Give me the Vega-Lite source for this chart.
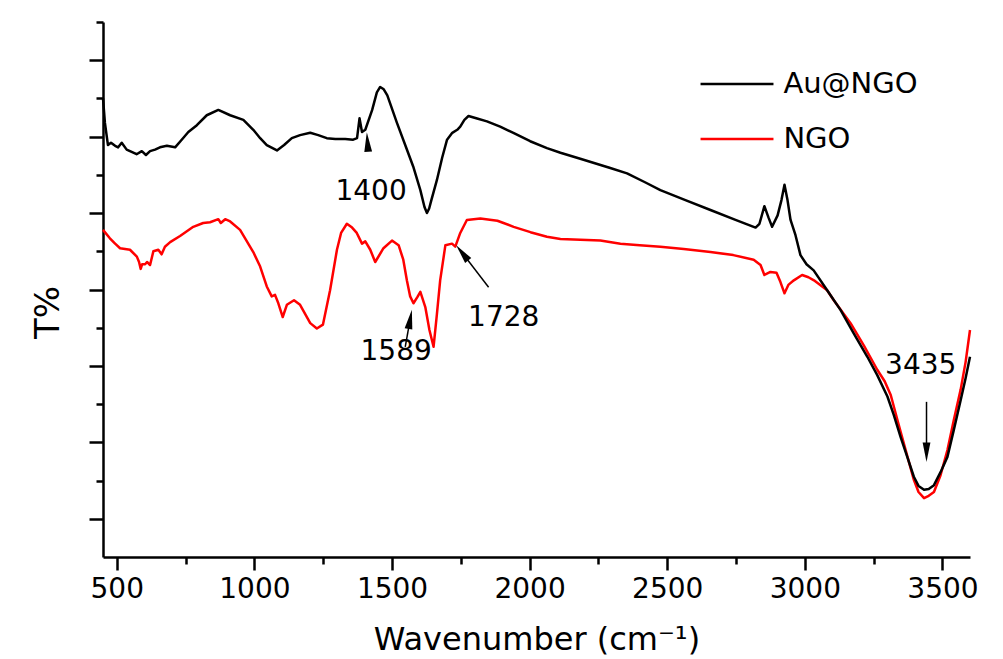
{
  "$schema": "https://vega.github.io/schema/vega-lite/v6.json",
  "width": 867,
  "height": 535,
  "autosize": {"type": "none"},
  "padding": {"left": 103, "top": 22, "right": 33, "bottom": 102},
  "background": "white",
  "config": {"view": {"stroke": null}, "font": "DejaVu Sans"},
  "datasets": {
    "spectra": [
      {"series":"NGO","wn":450,"T":4.78},{"series":"NGO","wn":475,"T":4.67},{"series":"NGO","wn":494,"T":4.60},{"series":"NGO","wn":512,"T":4.54},{"series":"NGO","wn":530,"T":4.53},{"series":"NGO","wn":548,"T":4.52},{"series":"NGO","wn":573,"T":4.43},{"series":"NGO","wn":581,"T":4.36},{"series":"NGO","wn":587,"T":4.27},{"series":"NGO","wn":592,"T":4.33},{"series":"NGO","wn":603,"T":4.33},{"series":"NGO","wn":610,"T":4.36},{"series":"NGO","wn":621,"T":4.32},{"series":"NGO","wn":633,"T":4.50},{"series":"NGO","wn":651,"T":4.52},{"series":"NGO","wn":663,"T":4.46},{"series":"NGO","wn":675,"T":4.56},{"series":"NGO","wn":694,"T":4.62},{"series":"NGO","wn":730,"T":4.70},{"series":"NGO","wn":778,"T":4.82},{"series":"NGO","wn":814,"T":4.87},{"series":"NGO","wn":839,"T":4.88},{"series":"NGO","wn":869,"T":4.92},{"series":"NGO","wn":878,"T":4.87},{"series":"NGO","wn":894,"T":4.92},{"series":"NGO","wn":912,"T":4.89},{"series":"NGO","wn":948,"T":4.78},{"series":"NGO","wn":996,"T":4.49},{"series":"NGO","wn":1021,"T":4.30},{"series":"NGO","wn":1045,"T":4.04},{"series":"NGO","wn":1063,"T":3.91},{"series":"NGO","wn":1075,"T":3.93},{"series":"NGO","wn":1087,"T":3.82},{"series":"NGO","wn":1103,"T":3.64},{"series":"NGO","wn":1118,"T":3.80},{"series":"NGO","wn":1144,"T":3.86},{"series":"NGO","wn":1166,"T":3.80},{"series":"NGO","wn":1203,"T":3.56},{"series":"NGO","wn":1227,"T":3.49},{"series":"NGO","wn":1249,"T":3.54},{"series":"NGO","wn":1275,"T":3.99},{"series":"NGO","wn":1300,"T":4.52},{"series":"NGO","wn":1315,"T":4.74},{"series":"NGO","wn":1336,"T":4.86},{"series":"NGO","wn":1355,"T":4.81},{"series":"NGO","wn":1372,"T":4.74},{"series":"NGO","wn":1391,"T":4.60},{"series":"NGO","wn":1403,"T":4.63},{"series":"NGO","wn":1421,"T":4.52},{"series":"NGO","wn":1439,"T":4.36},{"series":"NGO","wn":1469,"T":4.54},{"series":"NGO","wn":1500,"T":4.64},{"series":"NGO","wn":1524,"T":4.58},{"series":"NGO","wn":1541,"T":4.39},{"series":"NGO","wn":1554,"T":4.12},{"series":"NGO","wn":1566,"T":3.91},{"series":"NGO","wn":1578,"T":3.82},{"series":"NGO","wn":1592,"T":3.90},{"series":"NGO","wn":1603,"T":3.97},{"series":"NGO","wn":1621,"T":3.77},{"series":"NGO","wn":1636,"T":3.47},{"series":"NGO","wn":1651,"T":3.25},{"series":"NGO","wn":1663,"T":3.67},{"series":"NGO","wn":1675,"T":4.12},{"series":"NGO","wn":1694,"T":4.58},{"series":"NGO","wn":1718,"T":4.60},{"series":"NGO","wn":1730,"T":4.56},{"series":"NGO","wn":1748,"T":4.74},{"series":"NGO","wn":1772,"T":4.91},{"series":"NGO","wn":1821,"T":4.93},{"series":"NGO","wn":1883,"T":4.90},{"series":"NGO","wn":1942,"T":4.82},{"series":"NGO","wn":2003,"T":4.75},{"series":"NGO","wn":2063,"T":4.69},{"series":"NGO","wn":2112,"T":4.66},{"series":"NGO","wn":2184,"T":4.65},{"series":"NGO","wn":2257,"T":4.64},{"series":"NGO","wn":2330,"T":4.60},{"series":"NGO","wn":2400,"T":4.58},{"series":"NGO","wn":2475,"T":4.56},{"series":"NGO","wn":2560,"T":4.53},{"series":"NGO","wn":2657,"T":4.49},{"series":"NGO","wn":2740,"T":4.45},{"series":"NGO","wn":2814,"T":4.39},{"series":"NGO","wn":2839,"T":4.32},{"series":"NGO","wn":2853,"T":4.19},{"series":"NGO","wn":2875,"T":4.23},{"series":"NGO","wn":2897,"T":4.22},{"series":"NGO","wn":2911,"T":4.10},{"series":"NGO","wn":2926,"T":3.95},{"series":"NGO","wn":2940,"T":4.06},{"series":"NGO","wn":2960,"T":4.12},{"series":"NGO","wn":2990,"T":4.19},{"series":"NGO","wn":3013,"T":4.16},{"series":"NGO","wn":3033,"T":4.12},{"series":"NGO","wn":3081,"T":3.99},{"series":"NGO","wn":3105,"T":3.86},{"series":"NGO","wn":3166,"T":3.56},{"series":"NGO","wn":3214,"T":3.27},{"series":"NGO","wn":3263,"T":2.95},{"series":"NGO","wn":3290,"T":2.80},{"series":"NGO","wn":3312,"T":2.62},{"series":"NGO","wn":3341,"T":2.23},{"series":"NGO","wn":3373,"T":1.81},{"series":"NGO","wn":3396,"T":1.51},{"series":"NGO","wn":3413,"T":1.35},{"series":"NGO","wn":3433,"T":1.27},{"series":"NGO","wn":3450,"T":1.30},{"series":"NGO","wn":3469,"T":1.35},{"series":"NGO","wn":3493,"T":1.57},{"series":"NGO","wn":3518,"T":1.90},{"series":"NGO","wn":3541,"T":2.29},{"series":"NGO","wn":3566,"T":2.69},{"series":"NGO","wn":3584,"T":3.05},{"series":"NGO","wn":3600,"T":3.47},
      {"series":"Au@NGO","wn":450,"T":6.50},{"series":"Au@NGO","wn":457,"T":6.18},{"series":"Au@NGO","wn":468,"T":5.89},{"series":"Au@NGO","wn":479,"T":5.92},{"series":"Au@NGO","wn":494,"T":5.88},{"series":"Au@NGO","wn":505,"T":5.86},{"series":"Au@NGO","wn":518,"T":5.92},{"series":"Au@NGO","wn":536,"T":5.83},{"series":"Au@NGO","wn":554,"T":5.80},{"series":"Au@NGO","wn":572,"T":5.77},{"series":"Au@NGO","wn":591,"T":5.81},{"series":"Au@NGO","wn":606,"T":5.76},{"series":"Au@NGO","wn":621,"T":5.81},{"series":"Au@NGO","wn":639,"T":5.83},{"series":"Au@NGO","wn":657,"T":5.86},{"series":"Au@NGO","wn":682,"T":5.88},{"series":"Au@NGO","wn":712,"T":5.86},{"series":"Au@NGO","wn":736,"T":5.96},{"series":"Au@NGO","wn":760,"T":6.06},{"series":"Au@NGO","wn":791,"T":6.15},{"series":"Au@NGO","wn":827,"T":6.28},{"series":"Au@NGO","wn":869,"T":6.35},{"series":"Au@NGO","wn":912,"T":6.28},{"series":"Au@NGO","wn":960,"T":6.22},{"series":"Au@NGO","wn":996,"T":6.09},{"series":"Au@NGO","wn":1021,"T":5.98},{"series":"Au@NGO","wn":1045,"T":5.89},{"series":"Au@NGO","wn":1082,"T":5.82},{"series":"Au@NGO","wn":1108,"T":5.89},{"series":"Au@NGO","wn":1136,"T":5.98},{"series":"Au@NGO","wn":1166,"T":6.02},{"series":"Au@NGO","wn":1203,"T":6.05},{"series":"Au@NGO","wn":1232,"T":6.02},{"series":"Au@NGO","wn":1263,"T":5.98},{"series":"Au@NGO","wn":1294,"T":5.97},{"series":"Au@NGO","wn":1330,"T":5.97},{"series":"Au@NGO","wn":1359,"T":5.96},{"series":"Au@NGO","wn":1373,"T":5.98},{"series":"Au@NGO","wn":1382,"T":6.24},{"series":"Au@NGO","wn":1391,"T":6.06},{"series":"Au@NGO","wn":1403,"T":6.09},{"series":"Au@NGO","wn":1428,"T":6.35},{"series":"Au@NGO","wn":1445,"T":6.58},{"series":"Au@NGO","wn":1457,"T":6.65},{"series":"Au@NGO","wn":1470,"T":6.62},{"series":"Au@NGO","wn":1483,"T":6.54},{"series":"Au@NGO","wn":1518,"T":6.18},{"series":"Au@NGO","wn":1548,"T":5.89},{"series":"Au@NGO","wn":1577,"T":5.61},{"series":"Au@NGO","wn":1603,"T":5.30},{"series":"Au@NGO","wn":1618,"T":5.08},{"series":"Au@NGO","wn":1627,"T":5.00},{"series":"Au@NGO","wn":1635,"T":5.06},{"series":"Au@NGO","wn":1643,"T":5.17},{"series":"Au@NGO","wn":1663,"T":5.43},{"series":"Au@NGO","wn":1682,"T":5.72},{"series":"Au@NGO","wn":1700,"T":5.96},{"series":"Au@NGO","wn":1719,"T":6.05},{"series":"Au@NGO","wn":1737,"T":6.09},{"series":"Au@NGO","wn":1748,"T":6.13},{"series":"Au@NGO","wn":1763,"T":6.22},{"series":"Au@NGO","wn":1778,"T":6.27},{"series":"Au@NGO","wn":1806,"T":6.24},{"series":"Au@NGO","wn":1845,"T":6.20},{"series":"Au@NGO","wn":1893,"T":6.13},{"series":"Au@NGO","wn":1941,"T":6.05},{"series":"Au@NGO","wn":2002,"T":5.94},{"series":"Au@NGO","wn":2063,"T":5.85},{"series":"Au@NGO","wn":2112,"T":5.79},{"series":"Au@NGO","wn":2184,"T":5.71},{"series":"Au@NGO","wn":2293,"T":5.59},{"series":"Au@NGO","wn":2354,"T":5.52},{"series":"Au@NGO","wn":2421,"T":5.40},{"series":"Au@NGO","wn":2475,"T":5.30},{"series":"Au@NGO","wn":2566,"T":5.17},{"series":"Au@NGO","wn":2657,"T":5.04},{"series":"Au@NGO","wn":2748,"T":4.91},{"series":"Au@NGO","wn":2821,"T":4.81},{"series":"Au@NGO","wn":2835,"T":4.86},{"series":"Au@NGO","wn":2853,"T":5.09},{"series":"Au@NGO","wn":2868,"T":4.94},{"series":"Au@NGO","wn":2881,"T":4.82},{"series":"Au@NGO","wn":2901,"T":4.97},{"series":"Au@NGO","wn":2915,"T":5.17},{"series":"Au@NGO","wn":2926,"T":5.37},{"series":"Au@NGO","wn":2937,"T":5.17},{"series":"Au@NGO","wn":2948,"T":4.91},{"series":"Au@NGO","wn":2966,"T":4.71},{"series":"Au@NGO","wn":2984,"T":4.45},{"series":"Au@NGO","wn":3006,"T":4.33},{"series":"Au@NGO","wn":3032,"T":4.25},{"series":"Au@NGO","wn":3081,"T":3.99},{"series":"Au@NGO","wn":3130,"T":3.73},{"series":"Au@NGO","wn":3177,"T":3.43},{"series":"Au@NGO","wn":3227,"T":3.12},{"series":"Au@NGO","wn":3263,"T":2.88},{"series":"Au@NGO","wn":3300,"T":2.60},{"series":"Au@NGO","wn":3323,"T":2.36},{"series":"Au@NGO","wn":3348,"T":2.07},{"series":"Au@NGO","wn":3373,"T":1.80},{"series":"Au@NGO","wn":3396,"T":1.55},{"series":"Au@NGO","wn":3413,"T":1.43},{"series":"Au@NGO","wn":3433,"T":1.38},{"series":"Au@NGO","wn":3450,"T":1.39},{"series":"Au@NGO","wn":3469,"T":1.44},{"series":"Au@NGO","wn":3493,"T":1.61},{"series":"Au@NGO","wn":3518,"T":1.81},{"series":"Au@NGO","wn":3541,"T":2.16},{"series":"Au@NGO","wn":3566,"T":2.55},{"series":"Au@NGO","wn":3584,"T":2.84},{"series":"Au@NGO","wn":3600,"T":3.12}
    ],
    "legendLines": [
      {"series":"Au@NGO","wn":2621,"wn2":2886,"T":6.69},
      {"series":"NGO","wn":2621,"wn2":2886,"T":5.97}
    ],
    "legendText": [
      {"series":"Au@NGO","wn":2922,"T":6.69},
      {"series":"NGO","wn":2922,"T":5.97}
    ],
    "arrows": [
      {"label":"1400","wn":1419,"T":5.85,"wn2":1411,"T2":5.93},
      {"label":"1589","wn":1548,"T":3.25,"wn2":1566,"T2":3.61},
      {"label":"1728","wn":1851,"T":4.03,"wn2":1755,"T2":4.48},
      {"label":"3435","wn":3442,"T":2.53,"wn2":3442,"T2":1.87}
    ],
    "heads": [
      {"label":"1400","wn":1411,"T":5.93},
      {"label":"1589","wn":1566,"T":3.61},
      {"label":"1728","wn":1755,"T":4.48},
      {"label":"3435","wn":3442,"T":1.87}
    ],
    "labels": [
      {"label":"1400","wn":1424,"T":5.28},
      {"label":"1589","wn":1515,"T":3.18},
      {"label":"1728","wn":1906,"T":3.63},
      {"label":"3435","wn":3421,"T":3.0}
    ]
  },
  "encoding": {
    "x": {
      "field": "wn", "type": "quantitative",
      "scale": {"domain": [450, 3600], "nice": false, "zero": false},
      "axis": {
        "title": "Wavenumber (cm⁻¹)",
        "values": [500, 750, 1000, 1250, 1500, 1750, 2000, 2250, 2500, 2750, 3000, 3250, 3500],
        "labelExpr": "datum.value % 500 === 0 ? datum.label : ''",
        "format": "d",
        "grid": false,
        "domainColor": "black", "domainWidth": 2.5,
        "tickColor": "black", "tickWidth": 2.5,
        "tickSize": {"condition": {"test": "datum.value % 500 === 0", "value": 13}, "value": 7},
        "labelFont": "DejaVu Sans", "labelFontSize": 28, "labelColor": "black", "labelPadding": 5,
        "labelFlush": false, "labelOverlap": false,
        "titleFont": "DejaVu Sans", "titleFontSize": 32, "titleFontWeight": "normal", "titleColor": "black", "titlePadding": 21
      }
    },
    "y": {
      "field": "T", "type": "quantitative",
      "scale": {"domain": [0.5, 7.5], "nice": false, "zero": false},
      "axis": {
        "title": "T%",
        "values": [1, 1.5, 2, 2.5, 3, 3.5, 4, 4.5, 5, 5.5, 6, 6.5, 7, 7.5],
        "labels": false,
        "grid": false,
        "domainColor": "black", "domainWidth": 2.5,
        "tickColor": "black", "tickWidth": 2.5,
        "tickSize": {"condition": {"test": "datum.value % 1 === 0", "value": 14}, "value": 7},
        "titleFont": "DejaVu Sans", "titleFontSize": 34, "titleFontWeight": "normal", "titleColor": "black",
        "titleAngle": -90, "titleBaseline": "alphabetic", "titleAlign": "center", "titleX": -45, "titleY": 290
      }
    }
  },
  "layer": [
    {
      "data": {"name": "spectra"},
      "mark": {"type": "line", "strokeWidth": 2.5, "strokeJoin": "round"},
      "encoding": {
        "color": {
          "field": "series", "type": "nominal",
          "scale": {"domain": ["Au@NGO", "NGO"], "range": ["#000000", "#ff0000"]},
          "legend": null
        }
      }
    },
    {
      "data": {"name": "legendLines"},
      "mark": {"type": "rule", "strokeWidth": 2.5},
      "encoding": {
        "x2": {"field": "wn2"},
        "color": {"field": "series", "type": "nominal", "scale": {"domain": ["Au@NGO", "NGO"], "range": ["#000000", "#ff0000"]}, "legend": null}
      }
    },
    {
      "data": {"name": "legendText"},
      "mark": {"type": "text", "align": "left", "baseline": "middle", "font": "DejaVu Sans", "fontSize": 29, "color": "black"},
      "encoding": {
        "text": {"field": "series"}
      }
    },
    {
      "data": {"name": "arrows"},
      "mark": {"type": "rule", "strokeWidth": 1.5, "color": "black"},
      "encoding": {
        "x2": {"field": "wn2"},
        "y2": {"field": "T2"}
      }
    },
    {
      "data": {"name": "heads"},
      "transform": [{"filter": "datum.label === '1400'"}],
      "mark": {"type": "point", "shape": "M0,-1L0.4,1L-0.4,1Z", "filled": true, "size": 380, "color": "black", "opacity": 1, "strokeWidth": 0, "angle": -4}
    },
    {
      "data": {"name": "heads"},
      "transform": [{"filter": "datum.label === '1589'"}],
      "mark": {"type": "point", "shape": "M0,-1L0.4,1L-0.4,1Z", "filled": true, "size": 380, "color": "black", "opacity": 1, "strokeWidth": 0, "angle": 10}
    },
    {
      "data": {"name": "heads"},
      "transform": [{"filter": "datum.label === '1728'"}],
      "mark": {"type": "point", "shape": "M0,-1L0.4,1L-0.4,1Z", "filled": true, "size": 380, "color": "black", "opacity": 1, "strokeWidth": 0, "angle": -38}
    },
    {
      "data": {"name": "heads"},
      "transform": [{"filter": "datum.label === '3435'"}],
      "mark": {"type": "point", "shape": "M0,-1L0.4,1L-0.4,1Z", "filled": true, "size": 380, "color": "black", "opacity": 1, "strokeWidth": 0, "angle": 180}
    },
    {
      "data": {"name": "labels"},
      "mark": {"type": "text", "align": "center", "baseline": "middle", "font": "DejaVu Sans", "fontSize": 28, "color": "black"},
      "encoding": {
        "text": {"field": "label"}
      }
    }
  ]
}
